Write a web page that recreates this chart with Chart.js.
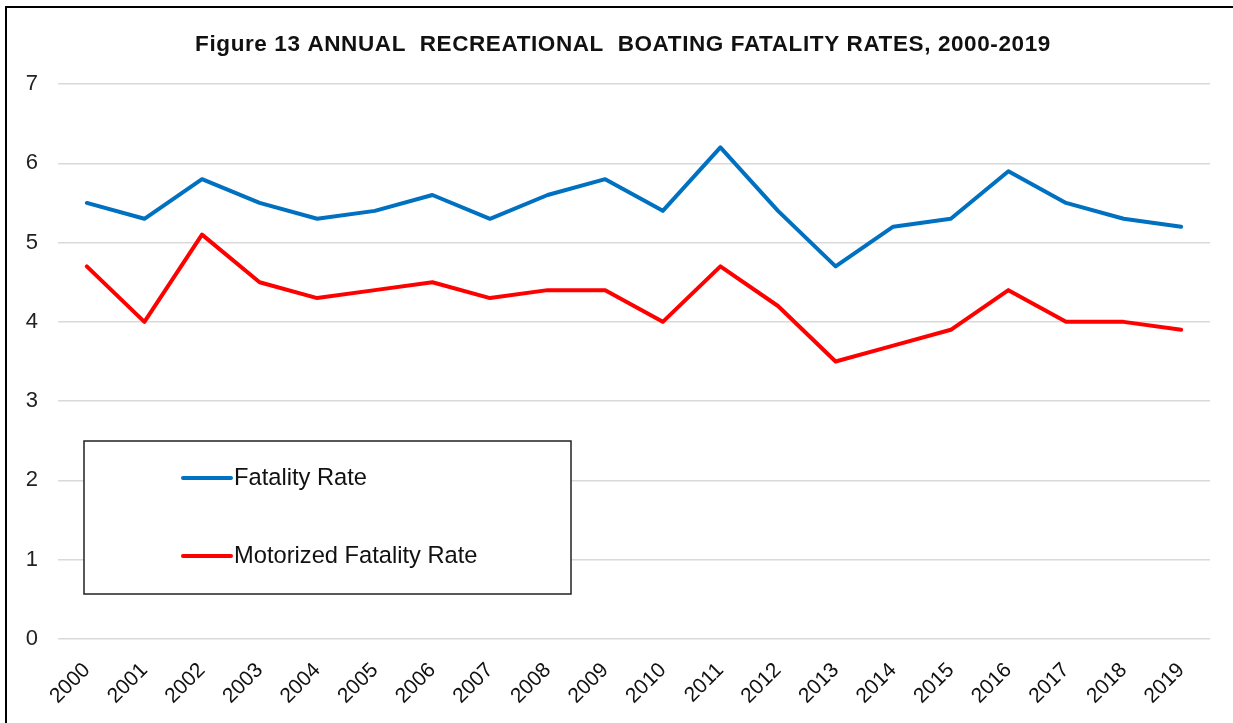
<!DOCTYPE html>
<html>
<head>
<meta charset="utf-8">
<script src="https://cdn.jsdelivr.net/npm/chart.js@4.4.1/dist/chart.umd.min.js"></script>
<style>
  html, body { margin: 0; padding: 0; background: #fff; overflow: hidden; width: 1233px; height: 723px; }
  #frame { position: absolute; left: 5px; top: 6px; width: 1240px; height: 720px; border: 2px solid #000; overflow: hidden; background: #fff; }
  #c { display: block; }
</style>
</head>
<body>
<div id="frame"><canvas id="c" width="1240" height="720"></canvas></div>
<script>
const years = ['2000','2001','2002','2003','2004','2005','2006','2007','2008','2009','2010','2011','2012','2013','2014','2015','2016','2017','2018','2019'];
const fatalityRate = [5.5, 5.3, 5.8, 5.5, 5.3, 5.4, 5.6, 5.3, 5.6, 5.8, 5.4, 6.2, 5.4, 4.7, 5.2, 5.3, 5.9, 5.5, 5.3, 5.2];
const motorizedFatalityRate = [4.7, 4.0, 5.1, 4.5, 4.3, 4.4, 4.5, 4.3, 4.4, 4.4, 4.0, 4.7, 4.2, 3.5, 3.7, 3.9, 4.4, 4.0, 4.0, 3.9];
const yTicks = [0, 1, 2, 3, 4, 5, 6, 7];
const titleText = 'Figure 13 ANNUAL  RECREATIONAL  BOATING FATALITY RATES, 2000-2019';

const titleDraw = {
  id: 'titleDraw',
  afterDraw(chart) {
    const ctx = chart.ctx;
    ctx.save();
    ctx.fillStyle = '#111';
    ctx.font = 'bold 22.5px "Liberation Sans", Arial, sans-serif';
    if ('letterSpacing' in ctx) ctx.letterSpacing = '0.6px';
    ctx.textAlign = 'center';
    ctx.textBaseline = 'alphabetic';
    ctx.fillText(titleText, 616, 43);
    ctx.restore();
  }
};

const boxLegend = {
  id: 'boxLegend',
  afterDraw(chart) {
    const ctx = chart.ctx;
    const ca = chart.chartArea;
    const x0 = ca.left + 26, y0 = ca.top + 357, w = 487, h = 153;
    ctx.save();
    ctx.fillStyle = '#fff';
    ctx.fillRect(x0, y0, w, h);
    ctx.strokeStyle = '#222';
    ctx.lineWidth = 1.5;
    ctx.strokeRect(x0, y0, w, h);
    const rows = [37, 115];
    chart.data.datasets.forEach((ds, i) => {
      const y = y0 + rows[i];
      ctx.strokeStyle = ds.borderColor;
      ctx.lineWidth = 4;
      ctx.lineCap = 'round';
      ctx.beginPath();
      ctx.moveTo(x0 + 99, y);
      ctx.lineTo(x0 + 147, y);
      ctx.stroke();
      ctx.fillStyle = '#111';
      ctx.font = '23.7px "Liberation Sans", Arial, sans-serif';
      ctx.textBaseline = 'middle';
      ctx.textAlign = 'left';
      ctx.fillText(ds.label, x0 + 150, y);
    });
    ctx.restore();
  }
};

new Chart(document.getElementById('c'), {
  type: 'line',
  data: {
    labels: years,
    datasets: [
      { label: 'Fatality Rate', data: fatalityRate, borderColor: '#0070C0', backgroundColor: '#0070C0', borderWidth: 4, pointRadius: 0, tension: 0, borderJoinStyle: 'round', borderCapStyle: 'round' },
      { label: 'Motorized Fatality Rate', data: motorizedFatalityRate, borderColor: '#FF0000', backgroundColor: '#FF0000', borderWidth: 4, pointRadius: 0, tension: 0, borderJoinStyle: 'round', borderCapStyle: 'round' }
    ]
  },
  plugins: [titleDraw, boxLegend],
  options: {
    responsive: false,
    animation: false,
    layout: { padding: { left: 0, right: 37, top: 76, bottom: 0 } },
    plugins: {
      legend: { display: false },
      tooltip: { enabled: false },
      title: { display: false }
    },
    scales: {
      x: {
        offset: true,
        grid: { display: false, drawTicks: false },
        border: { display: false },
        ticks: {
          maxRotation: 45, minRotation: 45, autoSkip: false,
          color: '#111', padding: 19,
          font: { family: '"Liberation Sans", Arial, sans-serif', size: 21 }
        },
        afterFit(s) { s.height = 89; }
      },
      y: {
        min: 0, max: 7,
        afterBuildTicks(s) { s.ticks = yTicks.map(v => ({ value: v })); },
        grid: { color: '#d9d9d9', lineWidth: 1.5, drawTicks: false },
        border: { display: false },
        ticks: {
          color: '#222', padding: 20,
          font: { family: '"Liberation Sans", Arial, sans-serif', size: 22 }
        },
        afterFit(s) { s.width = 51; }
      }
    }
  }
});
</script>
</body>
</html>
